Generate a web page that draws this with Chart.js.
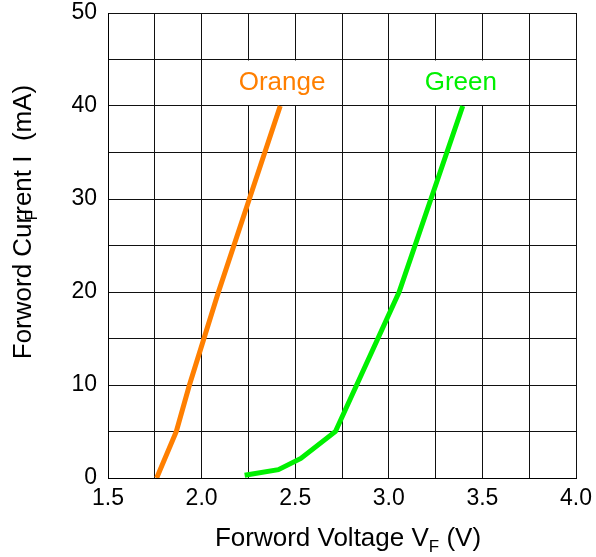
<!DOCTYPE html>
<html>
<head>
<meta charset="utf-8">
<script src="https://cdn.jsdelivr.net/npm/chart.js@4/dist/chart.umd.min.js"></script>
<style>
  html, body { margin: 0; padding: 0; background: #fff; }
  #wrap { width: 596px; height: 557px; }
</style>
</head>
<body>
<div id="wrap"><canvas id="ivChart" width="596" height="557"></canvas></div>
<script>
// forward voltage (V) vs forward current (mA)
const orangeVoltage = [1.76, 1.865, 1.935, 2.09, 2.255, 2.42];
const orangeCurrent = [0, 5, 10, 20, 30, 40];
const greenVoltage = [2.23, 2.41, 2.53, 2.715, 3.055, 3.395];
const greenCurrent = [0.3, 0.9, 2.1, 5, 20, 40];
const seriesNames = ['Orange', 'Green'];
const seriesColors = ['#ff7f00', '#00f000'];
const xTickLabels = ['1.5', '2.0', '2.5', '3.0', '3.5', '4.0'];
const yTickLabels = ['0', '10', '20', '30', '40', '50'];

const FONT = "'Liberation Sans', Arial, sans-serif";

function toPoints(xs, ys) {
  return xs.map((x, i) => ({ x: x, y: ys[i] }));
}

// white boxes with the curve names, drawn over the grid
const curveLabels = {
  id: 'curveLabels',
  afterDatasetsDraw(chart) {
    const { ctx, scales: { x, y } } = chart;
    const boxes = [[2.0, 2.75], [3.0, 3.75]];
    ctx.save();
    boxes.forEach((b, i) => {
      const l = x.getPixelForValue(b[0]) + 1;
      const r = x.getPixelForValue(b[1]) - 1;
      const t = y.getPixelForValue(45) + 1;
      const btm = y.getPixelForValue(40) - 1;
      ctx.fillStyle = '#fff';
      ctx.fillRect(l, t, r - l, btm - t);
      ctx.fillStyle = seriesColors[i];
      ctx.font = '26px ' + FONT;
      ctx.textAlign = 'center';
      ctx.textBaseline = 'middle';
      const cx = i === 0 ? x.getPixelForValue(2.43) : x.getPixelForValue(3.385);
      ctx.fillText(seriesNames[i], cx, (t + btm) / 2);
    });
    ctx.restore();
  }
};

// axis titles with the subscript F
const axisTitles = {
  id: 'axisTitles',
  afterDraw(chart) {
    const ctx = chart.ctx;
    ctx.save();
    ctx.fillStyle = '#000';
    ctx.textBaseline = 'alphabetic';
    ctx.textAlign = 'left';

    // x title
    const big = '26px ' + FONT, small = '17px ' + FONT;
    const p1 = 'Forword Voltage V', p2 = 'F', p3 = ' (V)';
    ctx.font = big;
    const w1 = ctx.measureText(p1).width, w3 = ctx.measureText(p3).width;
    ctx.font = small;
    const w2 = ctx.measureText(p2).width;
    let sx = 348 - (w1 + w2 + w3) / 2;
    const by = 546;
    ctx.font = big; ctx.fillText(p1, sx, by); sx += w1;
    ctx.font = small; ctx.fillText(p2, sx, by + 6); sx += w2;
    ctx.font = big; ctx.fillText(p3, sx, by);

    // y title, rotated; the subscript sits over "rr" like the original
    ctx.translate(31, 222);
    ctx.rotate(-Math.PI / 2);
    ctx.font = big;
    const yt = 'Forword Current I  (mA)';
    const wy = ctx.measureText(yt).width;
    ctx.fillText(yt, -wy / 2, 0);
    const off = ctx.measureText('Forword Cu').width;
    ctx.font = small;
    ctx.fillText('F', -wy / 2 + off + 3, 6);
    ctx.restore();
  }
};

new Chart(document.getElementById('ivChart'), {
  type: 'scatter',
  data: {
    datasets: [
      {
        label: seriesNames[0],
        data: toPoints(orangeVoltage, orangeCurrent),
        showLine: true,
        borderColor: seriesColors[0],
        borderWidth: 5,
        pointRadius: 0,
        tension: 0
      },
      {
        label: seriesNames[1],
        data: toPoints(greenVoltage, greenCurrent),
        showLine: true,
        borderColor: seriesColors[1],
        borderWidth: 5,
        pointRadius: 0,
        tension: 0
      }
    ]
  },
  options: {
    responsive: false,
    animation: false,
    devicePixelRatio: 1,
    layout: { padding: { left: 0, right: 20, top: 13, bottom: 0 } },
    plugins: {
      legend: { display: false },
      tooltip: { enabled: false }
    },
    scales: {
      x: {
        type: 'linear',
        min: 1.5,
        max: 4.0,
        afterFit(scale) { scale.height = 79; scale.paddingRight = 0; },
        afterBuildTicks(scale) {
          scale.ticks = [];
          for (let i = 0; i <= 10; i++) scale.ticks.push({ value: 1.5 + i * 0.25 });
        },
        ticks: {
          color: '#000',
          font: { family: FONT, size: 23 },
          padding: 7,
          maxRotation: 0,
          autoSkip: false,
          callback: (v) => {
            const s = v.toFixed(1);
            return xTickLabels.includes(s) && Math.abs(v * 2 - Math.round(v * 2)) < 1e-6 ? s : '';
          }
        },
        grid: { color: '#111', lineWidth: 1, drawTicks: false },
        border: { display: true, color: '#000', width: 1 }
      },
      y: {
        type: 'linear',
        min: 0,
        max: 50,
        afterFit(scale) { scale.width = 108; scale.paddingTop = 0; scale.paddingBottom = 0; },
        afterBuildTicks(scale) {
          scale.ticks = [];
          for (let i = 0; i <= 10; i++) scale.ticks.push({ value: i * 5 });
        },
        ticks: {
          color: '#000',
          font: { family: FONT, size: 23 },
          padding: 11,
          autoSkip: false,
          callback: (v) => (yTickLabels.includes(String(v)) ? String(v) : '')
        },
        grid: { color: '#111', lineWidth: 1, drawTicks: false },
        border: { display: true, color: '#000', width: 1 }
      }
    }
  },
  plugins: [curveLabels, axisTitles]
});
</script>
</body>
</html>
